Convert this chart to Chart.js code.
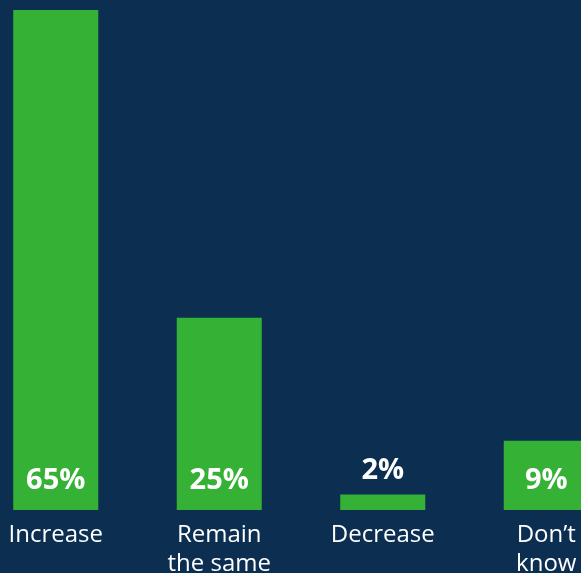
<!DOCTYPE html>
<html>
<head>
<meta charset="utf-8">
<script src="https://cdn.jsdelivr.net/npm/chart.js@4/dist/chart.umd.min.js"></script>
<style>
  html, body { margin: 0; padding: 0; width: 581px; height: 573px; overflow: hidden; background: #0b2e51; }
  #wrap { position: absolute; left: -26px; top: 0; width: 654px; height: 573px; }
</style>
</head>
<body>
<div id="wrap"><canvas id="c"></canvas></div>
<script>
// categorías y valores (%)
const labels = ["Increase", ["Remain", "the same"], "Decrease", ["Don’t", "know"]];
const values = [65, 25, 2, 9];
const GREEN = "#35b235";

// etiquetas de valor: dentro de la barra si cabe, encima si no
const valueLabels = {
  id: "valueLabels",
  afterDatasetsDraw(chart) {
    const ctx = chart.ctx;
    const meta = chart.getDatasetMeta(0);
    ctx.save();
    ctx.fillStyle = "#ffffff";
    ctx.font = "bold 29px 'Open Sans', sans-serif";
    ctx.textAlign = "center";
    ctx.textBaseline = "middle";
    meta.data.forEach((bar, i) => {
      const h = bar.base - bar.y;
      const y = h > 50 ? bar.base - 29 : bar.y - 24;
      ctx.fillText(values[i] + "%", bar.x, y);
    });
    ctx.restore();
  }
};

new Chart(document.getElementById("c"), {
  type: "bar",
  data: { labels, datasets: [{ data: values, backgroundColor: GREEN, borderWidth: 0,
    categoryPercentage: 1, barPercentage: 0.52 }] },
  options: {
    responsive: true, maintainAspectRatio: false, animation: false,
    layout: { padding: { top: 10, left: 0, right: 0, bottom: 0 } },
    plugins: { legend: { display: false }, tooltip: { enabled: false } },
    scales: {
      y: { display: false, min: 0, max: 65 },
      x: {
        grid: { display: false }, border: { display: false },
        ticks: { color: "#ffffff", padding: 3, maxRotation: 0, autoSkip: false,
          font: { family: "'Open Sans', sans-serif", size: 24, lineHeight: 1.2 } },
        afterFit: (s) => { s.height = 63; }
      }
    }
  },
  plugins: [valueLabels]
});
</script>
</body>
</html>
